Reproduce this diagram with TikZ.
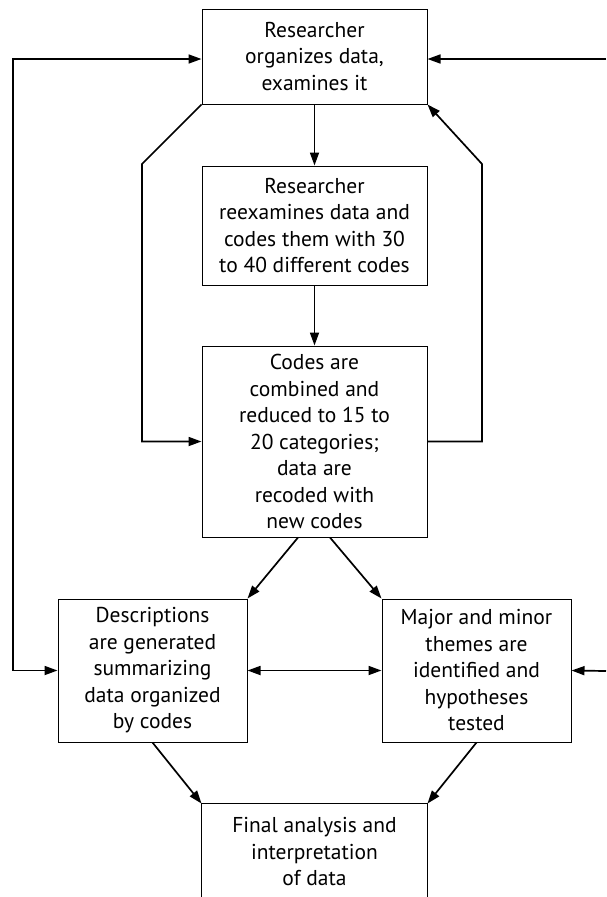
\documentclass[tikz,border=0pt]{standalone}
\usepackage{fontspec}
\setmainfont{PT Sans}
\usetikzlibrary{arrows.meta,positioning}

\tikzset{
  box/.style={draw=black, line width=1pt, align=center, inner sep=0pt,
              font=\fontsize{21.5}{26.5}\selectfont},
  arr/.style={line width=1.7pt, -{Triangle[length=13pt,width=9pt]}},
  dblarr/.style={line width=1.7pt, {Triangle[length=13pt,width=9pt]}-{Triangle[length=13pt,width=9pt]}}
}

\begin{document}
\begin{tikzpicture}[x=1pt, y=-1pt]
  \clip (0,0) rectangle (606,897);

  % process boxes
  \node[box, minimum width=225pt, minimum height=95pt]  (top) at (314.5,56.5)
    {Researcher\\organizes data,\\examines it};
  \node[box, minimum width=225pt, minimum height=119pt] (recode) at (314.5,225.5)
    {Researcher\\reexamines data and\\codes them with 30\\to 40 different codes};
  \node[box, minimum width=225pt, minimum height=191pt] (combine) at (314.5,441.5)
    {Codes are\\combined and\\reduced to 15 to\\20 categories;\\data are\\recoded with\\new codes};
  \node[box, minimum width=189pt, minimum height=143pt] (desc) at (152.5,670.5)
    {Descriptions\\are generated\\summarizing\\data organized\\by codes};
  \node[box, minimum width=189pt, minimum height=143pt] (themes) at (476.5,670.5)
    {Major and minor\\themes are\\identified and\\hypotheses\\tested};
  % final box runs off the bottom edge: three sides only
  \node[box, draw=none, minimum width=225pt, minimum height=96pt] (final) at (314.5,852)
    {Final analysis and\\interpretation\\of data};
  \draw[line width=1pt] (final.south west) -- (final.north west)
        -- (final.north east) -- (final.south east);

  % loose ends of the outer feedback lines
  \coordinate (lx) at (13,0);
  \coordinate (rtop) at (606,59);
  \coordinate (rmid) at (606,671);

  % main flow
  \draw[arr] (top) -- (recode);
  \draw[arr] (recode) -- (combine);

  % inner loops around the coding steps
  \draw[arr] (top.south west) -- (142,164) |- (combine.west);
  \draw[arr] (combine.east) -| (482,164) -- (top.south east);

  % split into descriptions and themes
  \draw[arr] ([xshift=-16.5pt]combine.south) -- (desc.north east);
  \draw[arr] ([xshift=15.5pt]combine.south) -- (themes.north west);
  \draw[dblarr] (desc) -- (themes);

  % outer left loop
  \draw[dblarr] ([yshift=-2.5pt]top.west) -| (lx |- desc.west) -- (desc.west);

  % inputs from the right edge
  \draw[arr] (rtop) -- ([yshift=-2.5pt]top.east);
  \draw[arr] (rmid) -- (themes.east);

  % converge on the final analysis
  \draw[arr] (desc.south) -- (final.north west);
  \draw[arr] (themes.south) -- (final.north east);
\end{tikzpicture}
\end{document}
